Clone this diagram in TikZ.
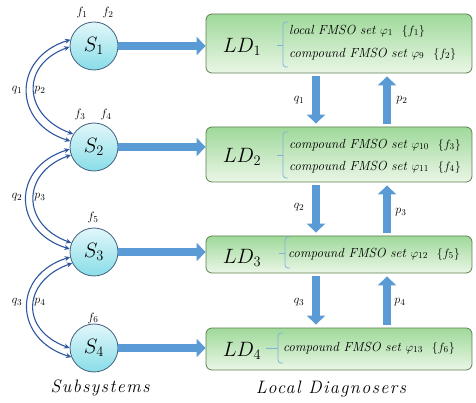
\documentclass[tikz,border=0pt]{standalone}
\usepackage{fontspec}
\setmainfont{Latin Modern Roman}
\usetikzlibrary{arrows.meta}
\definecolor{arrblue}{HTML}{5B9BD5}
\definecolor{linkblue}{HTML}{2F56A0}
\definecolor{bracecol}{HTML}{7FB2DE}
\definecolor{boxborder}{HTML}{5E8050}
\definecolor{circborder}{HTML}{41607F}
\definecolor{cyantop}{HTML}{E2F7FA}
\definecolor{cyanbot}{HTML}{88DDE8}
\definecolor{greentop}{HTML}{9FD99A}
\definecolor{greenbot}{HTML}{EAF6E6}
\newcommand{\capspaced}[1]{{\fontsize{18}{20}\selectfont\itshape\addfontfeatures{LetterSpace=8}#1}}
\begin{document}
\begin{tikzpicture}[x=1pt,y=-1pt,
  sub/.style={circle,draw=circborder,line width=0.8pt,top color=cyantop,bottom color=cyanbot,
    minimum size=48pt,inner sep=0pt,font=\fontsize{20}{22}\selectfont},
  ldbox/.style={draw=boxborder,line width=0.8pt,rounded corners=6pt,top color=greentop,
    bottom color=greenbot,minimum width=266pt,inner sep=0pt},
  bigarrow/.style={draw=arrblue,line width=8pt,-{Triangle[length=9pt,width=18pt]}},
  link/.style={draw=linkblue,line width=1.1pt,{Stealth[length=5.5pt,width=5pt]}-{Stealth[length=5.5pt,width=5pt]}},
  lbl/.style={inner sep=0pt,font=\fontsize{13}{14}\selectfont},
  ldlbl/.style={inner sep=0pt,font=\fontsize{20}{22}\selectfont},
  settext/.style={inner sep=0pt,anchor=west,font=\fontsize{13.2}{15}\selectfont\itshape},
  bracestyle/.style={draw=bracecol,line width=0.8pt},
  caption/.style={inner sep=0pt}
]
\useasboundingbox (0,0) rectangle (476,403);

% subsystems
\node[sub] (S1) at (94,46) {$S_1$};
\node[sub] (S2) at (94,147) {$S_2$};
\node[sub] (S3) at (94,252) {$S_3$};
\node[sub] (S4) at (94,348) {$S_4$};

\node[lbl] (f1) at (82,13) {$f_1$};
\node[lbl] (f2) at (108,13) {$f_2$};
\node[lbl] (f3) at (80,115) {$f_3$};
\node[lbl] (f4) at (106,115) {$f_4$};
\node[lbl] (f5) at (93,218) {$f_5$};
\node[lbl] (f6) at (93,318) {$f_6$};

% local diagnosers
\node[ldbox,minimum height=59pt] (LD1) at (339,43.5) {};
\node[ldbox,minimum height=55pt] (LD2) at (339,154.5) {};
\node[ldbox,minimum height=37pt] (LD3) at (339,254.5) {};
\node[ldbox,minimum height=42pt] (LD4) at (339,349) {};

\node[ldlbl] (L1) at (242,47) {$LD_1$};
\node[ldlbl] (L2) at (242,157) {$LD_2$};
\node[ldlbl] (L3) at (242,258) {$LD_3$};
\node[ldlbl] (L4) at (242,351) {$LD_4$};

% braces
\draw[bracestyle,rounded corners=3pt] (288,22) -- (283,22) -- (283,45);
\draw[bracestyle,rounded corners=3pt] (283,45) -- (283,67) -- (288,67);
\draw[bracestyle] (277,45) -- (283,45);
\draw[bracestyle,rounded corners=3pt] (288,132) -- (283,132) -- (283,155);
\draw[bracestyle,rounded corners=3pt] (283,155) -- (283,178) -- (288,178);
\draw[bracestyle] (277,155) -- (283,155);
\draw[bracestyle,rounded corners=3pt] (290,237) -- (285,237) -- (285,253);
\draw[bracestyle,rounded corners=3pt] (285,253) -- (285,268) -- (290,268);
\draw[bracestyle] (279,253) -- (285,253);
\draw[bracestyle,rounded corners=3pt] (283,333) -- (278,333) -- (278,348);
\draw[bracestyle,rounded corners=3pt] (278,348) -- (278,363) -- (283,363);
\draw[bracestyle] (266,348) -- (278,348);

\node[settext] (t11) at (289,31) {local FMSO set $\varphi_{1}$\hspace{9pt}$\{f_1\}$};
\node[settext] (t12) at (289,54) {compound FMSO set $\varphi_{9}$\hspace{9pt}$\{f_2\}$};
\node[settext] (t21) at (289,145) {compound FMSO set $\varphi_{10}$\hspace{9pt}$\{f_3\}$};
\node[settext] (t22) at (289,167) {compound FMSO set $\varphi_{11}$\hspace{9pt}$\{f_4\}$};
\node[settext] (t31) at (288,254) {compound FMSO set $\varphi_{12}$\hspace{9pt}$\{f_5\}$};
\node[settext] (t41) at (283,348) {compound FMSO set $\varphi_{13}$\hspace{9pt}$\{f_6\}$};

% horizontal arrows
\draw[bigarrow] (S1.east) -- (S1.east -| LD1.west);
\draw[bigarrow] (S2.east) -- (S2.east -| LD2.west);
\draw[bigarrow] (S3.east) -- (S3.east -| LD3.west);
\draw[bigarrow] (S4.east) -- (S4.east -| LD4.west);

% vertical arrows
\draw[bigarrow,shorten <=3pt,shorten >=3pt] ([xshift=-23pt]LD1.south) -- ([xshift=-23pt]LD2.north);
\draw[bigarrow,shorten <=3pt,shorten >=3pt] ([xshift=48pt]LD2.north) -- ([xshift=48pt]LD1.south);
\draw[bigarrow,shorten <=3pt,shorten >=3pt] ([xshift=-23pt]LD2.south) -- ([xshift=-23pt]LD3.north);
\draw[bigarrow,shorten <=3pt,shorten >=3pt] ([xshift=48pt]LD3.north) -- ([xshift=48pt]LD2.south);
\draw[bigarrow,shorten <=3pt,shorten >=3pt] ([xshift=-23pt]LD3.south) -- ([xshift=-23pt]LD4.north);
\draw[bigarrow,shorten <=3pt,shorten >=3pt] ([xshift=48pt]LD4.north) -- ([xshift=48pt]LD3.south);

\node[lbl] (vq1) at (299,100) {$q_1$};
\node[lbl] (vp2) at (402,100) {$p_2$};
\node[lbl] (vq2) at (299,207) {$q_2$};
\node[lbl] (vp3) at (401,212) {$p_3$};
\node[lbl] (vq3) at (299,302) {$q_3$};
\node[lbl] (vp4) at (400,302) {$p_4$};

% links between subsystems
\draw[link] (S1.165) .. controls +(-58,18) and +(-58,-18) .. (S2.166);
\draw[link] (S1.182) .. controls +(-50,18) and +(-50,-18) .. (S2.148);
\draw[link] (S2.185) .. controls +(-58,18) and +(-58,-18) .. (S3.173);
\draw[link] (S2.199) .. controls +(-50,18) and +(-50,-18) .. (S3.158);
\draw[link] (S3.192) .. controls +(-58,18) and +(-58,-18) .. (S4.202);
\draw[link] (S3.207) .. controls +(-50,18) and +(-50,-18) .. (S4.180);

\node[lbl] (lq1) at (17,90) {$q_1$};
\node[lbl] (lp2) at (40,90) {$p_2$};
\node[lbl] (lq2) at (17,197) {$q_2$};
\node[lbl] (lp3) at (40,197) {$p_3$};
\node[lbl] (lq3) at (17,302) {$q_3$};
\node[lbl] (lp4) at (40,302) {$p_4$};

\node[caption] (cap1) at (100,388) {\capspaced{Subsystems}};
\node[caption] (cap2) at (331,389) {\capspaced{Local Diagnosers}};
\end{tikzpicture}
\end{document}
